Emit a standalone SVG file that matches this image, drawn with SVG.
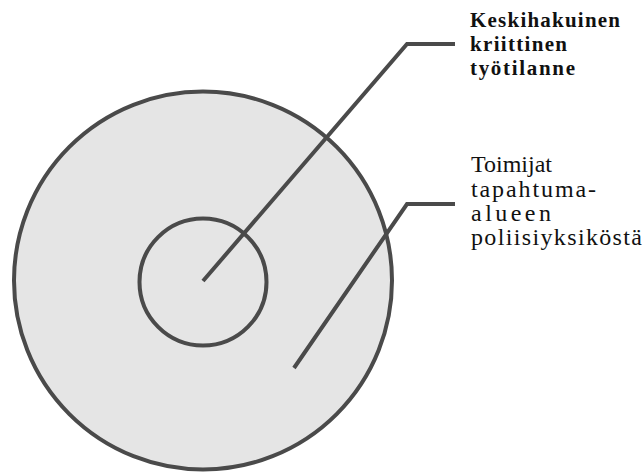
<svg xmlns="http://www.w3.org/2000/svg" width="644" height="472" viewBox="0 0 644 472">
<style>
.ring{stroke:#4a4a4a;stroke-width:4;}
.lead{fill:none;stroke:#4a4a4a;stroke-width:4;stroke-linejoin:miter;}
.lbl{font-family:"Liberation Serif","Times New Roman",serif;fill:#111;}
.b{font-weight:bold;font-size:21px;}
.r{font-size:24px;}
</style>
<rect width="644" height="472" fill="#ffffff"/>
<g id="outer">
<circle class="ring" cx="203" cy="280.5" r="189" fill="#e5e5e5"/>
</g>
<g id="inner">
<circle class="ring" cx="203" cy="282" r="63.5" fill="none"/>
</g>
<g id="connectors">
<polyline class="lead" points="203,281 407,44 455,44"/>
<polyline class="lead" points="294,368 407,204 455,204"/>
</g>
<g id="label-critical">
<text class="lbl b" x="470" y="27" textLength="150" lengthAdjust="spacing">Keskihakuinen</text>
<text class="lbl b" x="470" y="51" textLength="97" lengthAdjust="spacing">kriittinen</text>
<text class="lbl b" x="470" y="75" textLength="105" lengthAdjust="spacing">työtilanne</text>
</g>
<g id="label-actors">
<text class="lbl r" x="471" y="172" textLength="81" lengthAdjust="spacing">Toimijat</text>
<text class="lbl r" x="471" y="197" textLength="125" lengthAdjust="spacing">tapahtuma-</text>
<text class="lbl r" x="471" y="221" textLength="80" lengthAdjust="spacing">alueen</text>
<text class="lbl r" x="471" y="245" textLength="171" lengthAdjust="spacing">poliisiyksiköstä</text>
</g>
</svg>
